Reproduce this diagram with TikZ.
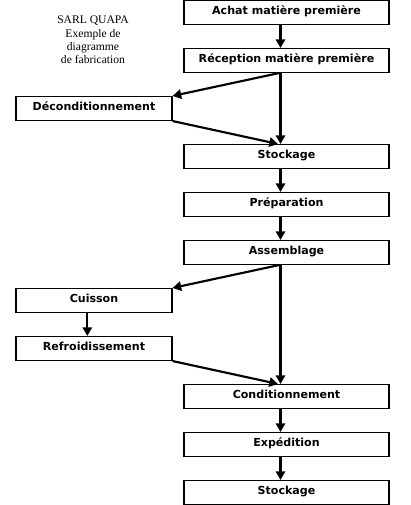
\documentclass[tikz,border=0pt]{standalone}
\usepackage{fontspec}
\setmainfont{Liberation Serif}
\newfontfamily\boxfont{DejaVu Sans}
\usetikzlibrary{arrows.meta,positioning}

\tikzset{
  etape/.style={draw, rectangle, line width=0.8pt, minimum width=153.75pt,
    inner xsep=0pt, inner ysep=0pt, text height=10.5pt, text depth=7.5pt,
    font=\boxfont\bfseries\fontsize{8.3}{10}\selectfont},
  annexe/.style={etape, minimum width=117pt},
  flux/.style={line width=1.6pt, -{Triangle[width=7pt,length=6.5pt]}}
}

\begin{document}
\begin{tikzpicture}[x=0.75pt,y=-0.75pt,node distance=17.2pt]
  \useasboundingbox (0,0) rectangle (410,505);
  \node[align=center, font=\fontsize{8.7}{10.1}\selectfont] (titre) at (93,40)
    {SARL QUAPA\\Exemple de\\diagramme\\de fabrication};
  \node[etape]  (achat)       at (286.5,12.5)                        {Achat matière première};
  \node[etape]  (reception)   [below=of achat]                       {Réception matière première};
  \node[annexe] (decond)      [below left=17.2pt and 8.2pt of reception] {Déconditionnement};
  \node[etape]  (stockage)    [below right=17.2pt and 8.2pt of decond]   {Stockage};
  \node[etape]  (preparation) [below=of stockage]                    {Préparation};
  \node[etape]  (assemblage)  [below=of preparation]                 {Assemblage};
  \node[annexe] (cuisson)     [below left=17.2pt and 8.2pt of assemblage] {Cuisson};
  \node[annexe] (refroid)     [below=of cuisson]                     {Refroidissement};
  \node[etape]  (condit)      [below right=17.2pt and 8.2pt of refroid]  {Conditionnement};
  \node[etape]  (expedition)  [below=of condit]                      {Expédition};
  \node[etape]  (stockagefin) [below=of expedition]                  {Stockage};
  % ligne principale
  \draw[flux] ([xshift=-4.5pt]achat.south)      -- ([xshift=-4.5pt]reception.north);
  \draw[flux] ([xshift=-4.5pt]reception.south)  -- ([xshift=-4.5pt]stockage.north);
  \draw[flux] ([xshift=-4.5pt]stockage.south)   -- ([xshift=-4.5pt]preparation.north);
  \draw[flux] ([xshift=-4.5pt]preparation.south) -- ([xshift=-4.5pt]assemblage.north);
  \draw[flux] ([xshift=-4.5pt]assemblage.south) -- ([xshift=-4.5pt]condit.north);
  \draw[flux] ([xshift=-4.5pt]condit.south)     -- ([xshift=-4.5pt]expedition.north);
  \draw[flux] ([xshift=-4.5pt]expedition.south) -- ([xshift=-4.5pt]stockagefin.north);
  % branches
  \draw[flux] ([xshift=-5.5pt]reception.south)  -- (decond.north east);
  \draw[flux] (decond.south east)               -- ([xshift=-6.4pt]stockage.north);
  \draw[flux] ([xshift=-5.5pt]assemblage.south) -- (cuisson.north east);
  \draw[flux] ([xshift=-5pt]cuisson.south)      -- ([xshift=-5pt]refroid.north);
  \draw[flux] (refroid.south east)              -- ([xshift=-6.4pt]condit.north);
\end{tikzpicture}
\end{document}
